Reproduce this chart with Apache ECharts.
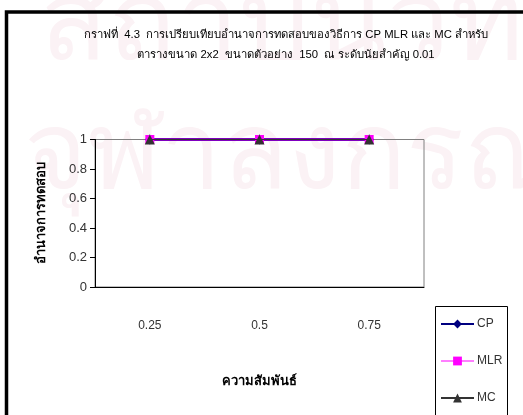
<!DOCTYPE html>
<html>
<head>
<meta charset="utf-8">
<script src="https://cdn.jsdelivr.net/npm/echarts@6/dist/echarts.min.js"></script>
<style>
  html, body { margin: 0; padding: 0; background: #fff; }
  #chart { width: 523px; height: 415px; }
</style>
</head>
<body>
<div id="chart"></div>
<script>
// Correlation levels on the x axis
const categories = ['0.25', '0.5', '0.75'];
// Power of the test for each method
const cpValues = [1, 1, 1];
const mlrValues = [1, 1, 1];
const mcValues = [1, 1, 1];
const yTicks = { min: 0, max: 1, interval: 0.2 };

const titleLine1 = 'กราฟที่  4.3  การเปรียบเทียบอำนาจการทดสอบของวิธีการ CP MLR และ MC สำหรับ';
const titleLine2 = 'ตารางขนาด 2x2  ขนาดตัวอย่าง  150  ณ ระดับนัยสำคัญ 0.01';
// Faint institutional watermark behind the page
const watermark1 = 'สถาบันวิทยบริการ';
const watermark2 = 'จุฬาลงกรณ์มหาวิทยาลัย';

const FONT = 'Liberation Sans, Arial, DejaVu Sans, sans-serif';

const chart = echarts.init(document.getElementById('chart'), null, { renderer: 'canvas' });

chart.setOption({
  animation: false,
  backgroundColor: '#fff',
  textStyle: { fontFamily: FONT },
  title: {
    text: titleLine1 + '\n' + titleLine2,
    left: 281,
    top: 20,
    textAlign: 'center',
    textStyle: { fontSize: 11.3, fontWeight: 'normal', color: '#000', lineHeight: 20, fontFamily: FONT }
  },
  grid: {
    left: 95, top: 139.5, right: 99, bottom: 128,
    show: true, borderColor: '#808080', borderWidth: 1, backgroundColor: 'transparent'
  },
  graphic: [
    { type: 'text', left: 40, top: -28, z: -10, silent: true,
      style: { text: watermark1, fontSize: 112, fill: '#fbf2f5', fontFamily: FONT } },
    { type: 'text', left: 24, top: 104, z: -10, silent: true,
      style: { text: watermark2, fontSize: 108, fill: '#fbf2f5', fontFamily: FONT } },
    { type: 'rect', shape: { x: 6.5, y: 12, width: 530, height: 420 }, style: { fill: 'none', stroke: '#000', lineWidth: 3.5 }, z: 100 },
    { type: 'rect', shape: { x: 435.5, y: 306.5, width: 72, height: 120 }, style: { fill: '#fff', stroke: '#000', lineWidth: 1 }, z: 1 }
  ],
  legend: {
    orient: 'vertical',
    left: 440, top: 318,
    padding: 0,
    itemGap: 25,
    itemWidth: 33, itemHeight: 11,
    textStyle: { fontSize: 12, color: '#333', fontFamily: FONT, padding: [0, 0, 0, -2] },
    data: ['CP', 'MLR', 'MC'],
    z: 10
  },
  xAxis: {
    type: 'category',
    data: categories,
    boundaryGap: true,
    axisLine: { lineStyle: { color: '#000', width: 1 } },
    axisTick: { length: 8, lineStyle: { color: '#000' } },
    axisLabel: { margin: 33, fontSize: 12, color: '#333', fontFamily: FONT },
    name: 'ความสัมพันธ์',
    nameLocation: 'middle',
    nameGap: 88,
    nameTextStyle: { fontSize: 13, fontWeight: 'bold', color: '#000' }
  },
  yAxis: {
    type: 'value',
    min: yTicks.min, max: yTicks.max, interval: yTicks.interval,
    axisLine: { show: true, lineStyle: { color: '#000', width: 1 } },
    axisTick: { show: true, length: 5, lineStyle: { color: '#000' } },
    splitLine: { show: false },
    axisLabel: { margin: 8, fontSize: 13, color: '#333', fontFamily: FONT },
    name: 'อำนาจการทดสอบ',
    nameLocation: 'middle',
    nameGap: 47,
    nameTextStyle: { fontSize: 13, fontWeight: 'bold', color: '#000' }
  },
  series: [
    {
      name: 'CP', type: 'line', data: cpValues,
      symbol: 'diamond', symbolSize: 10,
      itemStyle: { color: '#000080' },
      lineStyle: { color: '#000080', width: 3 }, z: 2
    },
    {
      name: 'MLR', type: 'line', data: mlrValues,
      symbol: 'rect', symbolSize: 9,
      itemStyle: { color: '#ff00ff' },
      lineStyle: { color: '#ff00ff', width: 3, opacity: 0.5 }, z: 3
    },
    {
      name: 'MC', type: 'line', data: mcValues,
      symbol: 'triangle', symbolSize: 10,
      itemStyle: { color: '#333333' },
      lineStyle: { color: '#333333', width: 1 }, z: 4
    }
  ]
});
</script>
</body>
</html>
